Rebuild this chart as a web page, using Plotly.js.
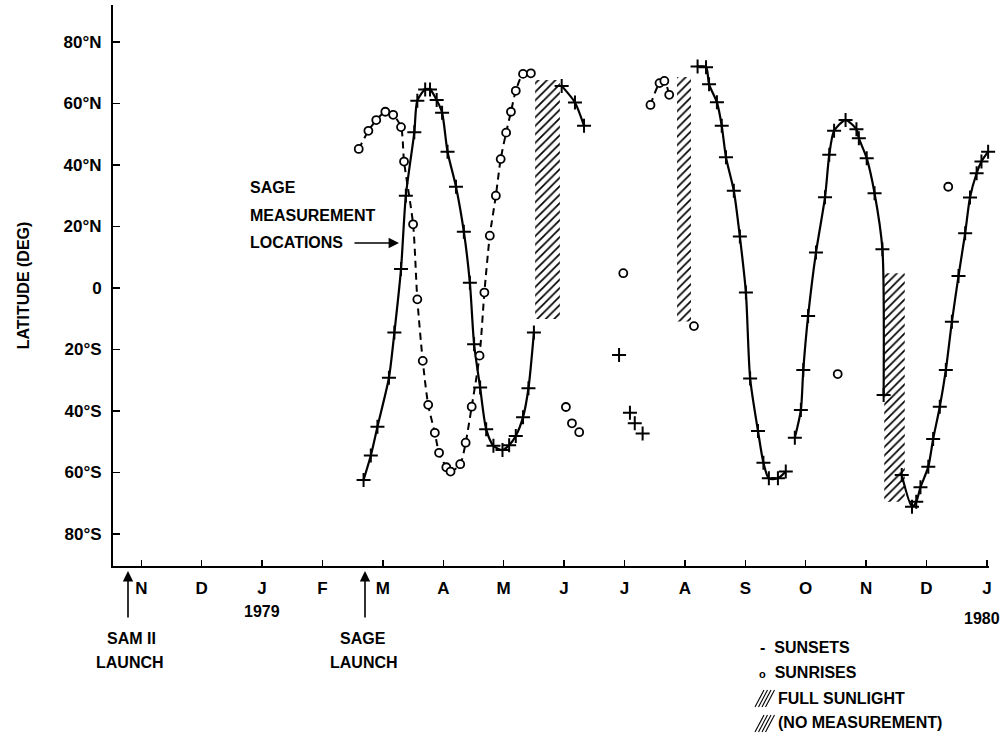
<!DOCTYPE html>
<html><head><meta charset="utf-8">
<script src="https://cdn.plot.ly/plotly-3.0.1.min.js"></script>
<style>html,body{margin:0;padding:0;background:#fff}#chart{width:1006px;height:737px}</style>
</head><body><div id="chart"></div>
<script>
// month index: 0 = Nov 1978 ... 14 = Jan 1980
const monthLabels = ['N','D','J','F','M','A','M','J','J','A','S','O','N','D','J'];
const monthTicks = [0,1,2,3,4,5,6,7,8,9,10,11,12,13,14];
const latTickVals = [80,60,40,20,0,-20,-40,-60,-80];
const latTickText = ['80°N','60°N','40°N','20°N','0','20°S','40°S','60°S','80°S'];

// Sunsets (+); null separates segments / isolated points
const sunsetMonth = [3.68,3.80,3.91,4.10,4.19,4.30,4.38,4.52,4.57,4.70,4.78,4.89,4.98,5.07,5.21,5.34,5.44,5.51,5.61,5.71,5.83,5.98,6.09,6.20,6.32,6.41,6.50,
  null, 6.96,7.18,7.33,
  null, 7.91, null, 8.09, null, 8.17, null, 8.30,
  null, 9.21,9.35,9.40,9.53,9.61,9.68,9.81,9.91,10.01,10.08,10.21,10.30,10.39,10.54,10.67,
  null, 10.82,10.92,10.96,11.04,11.17,11.32,11.39,11.47,11.66,11.84,11.88,12.01,12.14,12.27,12.29,
  null, 12.59,12.76,12.83,12.90,13.03,13.11,13.22,13.32,13.42,13.53,13.64,13.72,13.83,13.91,14.02];
const sunsetLat = [-62.4,-54.5,-45.1,-29.2,-14.5,6.2,30.0,50.6,60.9,64.5,64.5,61.1,57.0,44.3,32.9,18.3,1.7,-18.3,-32.4,-45.9,-51.3,-52.7,-51.1,-48.1,-42.0,-32.6,-14.5,
  null, 65.7,60.3,52.7,
  null, -21.8, null, -40.6, null, -44.0, null, -47.3,
  null, 72.0,71.8,66.2,60.4,52.7,42.5,31.6,16.7,-1.5,-29.4,-46.5,-56.8,-61.9,-61.9,-59.7,
  null, -48.7,-39.7,-26.7,-9.1,11.5,29.5,43.3,51.1,54.6,51.6,48.7,42.2,30.8,12.6,-34.8,
  null, -60.8,-71.1,-69.5,-64.8,-58.1,-49.1,-38.6,-26.7,-11.0,3.9,17.8,29.4,37.3,41.1,44.3];

// Sunrises (o)
const sunriseMonth = [3.60,3.76,3.89,4.04,4.17,4.30,4.35,4.50,4.57,4.66,4.75,4.86,4.93,5.05,5.12,5.28,5.37,5.47,5.60,5.68,5.77,5.87,5.95,6.04,6.12,6.20,6.32,6.45,
  null, 7.03, null, 7.13, null, 7.25,
  null, 7.98,
  null, 8.43,8.58,8.66,8.74,
  null, 9.15,
  null, 11.53,
  null, 13.36];
const sunriseLat = [45.2,51.1,54.6,57.3,56.3,52.3,41.1,20.7,-3.7,-23.7,-38.0,-47.1,-53.6,-58.3,-59.7,-57.3,-50.3,-38.6,-22.0,-1.5,17.0,30.0,41.9,50.5,57.3,64.1,69.6,69.8,
  null, -38.7, null, -44.0, null, -46.9,
  null, 4.8,
  null, 59.5,66.6,67.3,62.8,
  null, -12.4,
  null, -28.0,
  null, 32.9];

// Full sunlight (no measurement) periods
const hatchStart  = [6.52, 8.87, 12.30];
const hatchEnd    = [6.93, 9.10, 12.64];
const hatchBottom = [-10.1, -10.9, -69.5];
const hatchTop    = [67.6, 68.6, 4.8];

const FONT = 'Liberation Sans, Arial, Helvetica, sans-serif';
const L = 113, R = 989, T = 5, B = 566;
const PX = p => (p - L) / (R - L);
const PY = p => (B - p) / (B - T);

const traces = [];
hatchStart.forEach((s, i) => {
  const e = hatchEnd[i], b = hatchBottom[i], t = hatchTop[i];
  traces.push({
    type: 'scatter', mode: 'lines',
    x: [s, e, e, s, s], y: [b, b, t, t, b],
    fill: 'toself',
    fillcolor: 'rgba(255,255,255,0)',
    fillpattern: {shape: '/', fgcolor: '#000', bgcolor: '#fff', size: 6, solidity: 0.28},
    line: {width: 0, color: 'rgba(0,0,0,0)'},
    hoverinfo: 'skip', showlegend: false
  });
});
traces.push({
  type: 'scatter', mode: 'lines+markers', name: 'SUNSETS',
  x: sunsetMonth, y: sunsetLat, connectgaps: false, cliponaxis: false,
  line: {color: '#000', width: 2.2, shape: 'spline', smoothing: 0.7},
  marker: {symbol: 'cross-thin', size: 10, color: '#000', line: {width: 2, color: '#000'}}
});
traces.push({
  type: 'scatter', mode: 'lines+markers', name: 'SUNRISES',
  x: sunriseMonth, y: sunriseLat, connectgaps: false, cliponaxis: false,
  line: {color: '#000', width: 2, dash: '7px,5px', shape: 'spline', smoothing: 0.7},
  marker: {symbol: 'circle', size: 8, color: '#fff', line: {width: 1.8, color: '#000'}}
});

const tf = {family: FONT, size: 17, color: '#000', weight: 700};
function txt(text, x, y, anchor, size) {
  return {xref: 'paper', yref: 'paper', x: PX(x), y: PY(y), text: text, showarrow: false,
    xanchor: anchor || 'center', yanchor: 'middle',
    font: {family: FONT, size: size || 16, color: '#000', weight: 700}};
}
function arrow(x, y, ax, ay) {
  return {xref: 'paper', yref: 'paper', x: PX(x), y: PY(y), text: '', showarrow: true,
    ax: ax, ay: ay, arrowhead: 2, arrowsize: 1.3, arrowwidth: 1.6, arrowcolor: '#000', standoff: 0};
}
const annotations = [
  txt('SAGE', 248, 187, 'left'),
  txt('MEASUREMENT', 248, 215, 'left'),
  txt('LOCATIONS', 248, 243, 'left'),
  arrow(399, 243, -46, 0),
  txt('1979', 262, 611, 'center', 16),
  txt('1980', 982, 618, 'center', 16),
  arrow(128, 571, 0, 48),
  txt('SAM II', 131, 638),
  txt('LAUNCH', 130, 662),
  arrow(365, 571, 0, 48),
  txt('SAGE', 363, 638),
  txt('LAUNCH', 364, 662),
  txt('-  SUNSETS', 758, 647, 'left'),
  txt('<span style="font-size:11px">o</span>  SUNRISES', 757, 672, 'left'),
  txt('FULL SUNLIGHT', 776, 698, 'left'),
  txt('(NO MEASUREMENT)', 776, 722, 'left')
];
const shapes = [];
[0, 1, 2, 3].forEach(k => {
  shapes.push({type: 'line', xref: 'paper', yref: 'paper',
    x0: PX(755 + 3.5 * k), y0: PY(707), x1: PX(764 + 3.5 * k), y1: PY(690), line: {color: '#000', width: 1.1}});
  shapes.push({type: 'line', xref: 'paper', yref: 'paper',
    x0: PX(755 + 3.5 * k), y0: PY(732), x1: PX(764 + 3.5 * k), y1: PY(715), line: {color: '#000', width: 1.1}});
});

const layout = {
  width: 1006, height: 737,
  margin: {l: L, r: 1006 - R, t: T, b: 737 - B},
  paper_bgcolor: '#fff', plot_bgcolor: '#fff',
  showlegend: false,
  xaxis: {
    range: [(L - 141.3) / 60.4, (R - 141.3) / 60.4],
    tickmode: 'array', tickvals: monthTicks, ticktext: monthLabels,
    ticks: 'inside', ticklen: 6, tickwidth: 1.5, tickcolor: '#000',
    showline: true, linewidth: 2, linecolor: '#000',
    showgrid: false, zeroline: false, tickfont: tf, ticklabelstandoff: 6, fixedrange: true
  },
  yaxis: {
    range: [-90.4, 92],
    tickmode: 'array', tickvals: latTickVals, ticktext: latTickText,
    ticks: 'inside', ticklen: 7, tickwidth: 1.5, tickcolor: '#000',
    showline: true, linewidth: 2, linecolor: '#000',
    showgrid: false, zeroline: false, tickfont: tf, ticklabelstandoff: 6, fixedrange: true,
    title: {text: 'LATITUDE (DEG)', font: {family: FONT, size: 16, color: '#000', weight: 700}, standoff: 30}
  },
  annotations: annotations,
  shapes: shapes
};
Plotly.newPlot('chart', traces, layout, {displayModeBar: false, staticPlot: true});
</script>
</body></html>
